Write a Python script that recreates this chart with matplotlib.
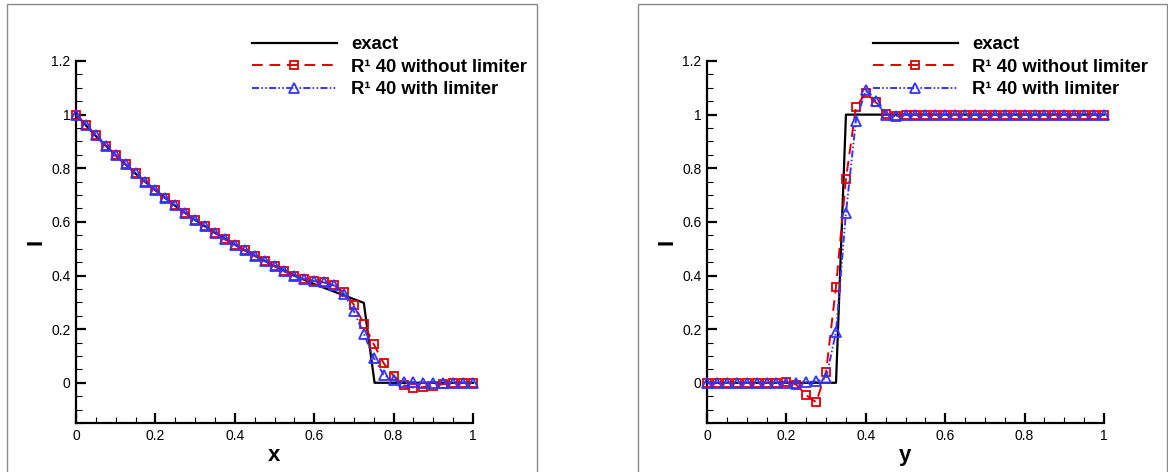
import matplotlib
matplotlib.use("Agg")
import matplotlib.pyplot as plt
from matplotlib.patches import Rectangle
from matplotlib.ticker import MultipleLocator, FixedLocator
from matplotlib.lines import Line2D

plt.rcParams['font.family'] = ['Liberation Sans', 'DejaVu Sans']

# ---------------- data ----------------
xs = [0.000, 0.025, 0.050, 0.075, 0.100, 0.125, 0.150, 0.175, 0.200, 0.225,
      0.250, 0.275, 0.300, 0.325, 0.350, 0.375, 0.400, 0.425, 0.450, 0.475,
      0.500, 0.525, 0.550, 0.575, 0.600, 0.625, 0.650, 0.675, 0.700, 0.725,
      0.750, 0.775, 0.800, 0.825, 0.850, 0.875, 0.900, 0.925, 0.950, 0.975, 1.000]

# left panel (x direction)
exact_x = [0.0, 0.05, 0.1, 0.15, 0.2, 0.25, 0.3, 0.35, 0.4, 0.45, 0.5, 0.55,
           0.6, 0.65, 0.7, 0.725, 0.752, 1.0]
exact_x_I = [1.0, 0.92, 0.848, 0.78, 0.718, 0.66, 0.607, 0.56, 0.515, 0.474,
             0.436, 0.40, 0.368, 0.34, 0.312, 0.298, 0.0, 0.0]
nolim_x = [1.000, 0.963, 0.923, 0.884, 0.848, 0.815, 0.781, 0.749, 0.719, 0.689,
           0.662, 0.633, 0.608, 0.583, 0.558, 0.535, 0.515, 0.494, 0.474, 0.454,
           0.435, 0.415, 0.398, 0.386, 0.379, 0.374, 0.363, 0.337, 0.291, 0.220,
           0.144, 0.073, 0.026, -0.009, -0.018, -0.016, -0.011, -0.005, -0.002, 0.000, 0.000]
lim_x = [1.000, 0.963, 0.923, 0.884, 0.848, 0.815, 0.781, 0.749, 0.719, 0.689,
         0.662, 0.633, 0.608, 0.583, 0.558, 0.535, 0.515, 0.494, 0.474, 0.454,
         0.435, 0.415, 0.398, 0.386, 0.379, 0.374, 0.363, 0.331, 0.266, 0.183,
         0.092, 0.030, 0.009, 0.003, 0.002, 0.001, 0.001, 0.000, 0.000, 0.000, 0.000]

# right panel (y direction)
exact_y = [0.0, 0.325, 0.35, 1.0]
exact_y_I = [0.0, 0.0, 1.0, 1.0]
nolim_y = [0.000, 0.000, 0.000, 0.000, 0.000, 0.000, 0.000, 0.000, 0.004, -0.007,
           -0.046, -0.073, 0.042, 0.359, 0.760, 1.027, 1.082, 1.046, 1.003, 0.994,
           1.000, 1.000, 1.000, 1.000, 1.000, 1.000, 1.000, 1.000, 1.000, 1.000,
           1.000, 1.000, 1.000, 1.000, 1.000, 1.000, 1.000, 1.000, 1.000, 1.000, 1.000]
lim_y = [0.000, 0.000, 0.000, 0.000, 0.000, 0.000, 0.000, 0.000, 0.000, 0.000,
         0.002, 0.005, 0.017, 0.191, 0.633, 0.978, 1.090, 1.050, 1.000, 0.994,
         1.000, 1.000, 1.000, 1.000, 1.000, 1.000, 1.000, 1.000, 1.000, 1.000,
         1.000, 1.000, 1.000, 1.000, 1.000, 1.000, 1.000, 1.000, 1.000, 1.000, 1.000]

labels = ['exact', 'R\u00b9 40 without limiter', 'R\u00b9 40 with limiter']
tick_vals = [0, 0.2, 0.4, 0.6, 0.8, 1.0, 1.2]
tick_txt = ['0', '0.2', '0.4', '0.6', '0.8', '1', '1.2']
xtick_vals = [0, 0.2, 0.4, 0.6, 0.8, 1.0]
xtick_txt = ['0', '0.2', '0.4', '0.6', '0.8', '1']

# ---------------- figure ----------------
W, H = 1168, 472
fig = plt.figure(figsize=(W / 100, H / 100), dpi=100)
fig.patch.set_facecolor('white')

# panel frames
for (l, r) in [(7, 537), (638, 1167)]:
    fig.add_artist(Rectangle((l / W, -0.02), (r - l) / W, 1.02 - 4 / H,
                             transform=fig.transFigure, fill=False,
                             edgecolor='#8a8a8a', lw=1.0))

red_dash = (5.5, 3.5)
blue_dd = (3.6, 1.2, 0.8, 1.2, 0.8, 1.2)


def setup(ax, xlabel, exx, exI, nl, wl):
    ax.plot(exx, exI, color='black', lw=1.6, zorder=3, clip_on=False)
    ax.plot(xs, nl, color='#e00000', lw=1.4, dashes=red_dash, marker='s', ms=6,
            mfc='none', mec='#e00000', mew=1.3, zorder=4, clip_on=False)
    ax.plot(xs, wl, color='#3333ff', lw=1.4, dashes=blue_dd, marker='^', ms=6.5,
            mfc='none', mec='#3333ff', mew=1.3, zorder=5, clip_on=False)
    ax.set_xlim(0, 1)
    ax.set_ylim(-0.15, 1.2)
    for s in ['top', 'right']:
        ax.spines[s].set_visible(False)
    for s in ['left', 'bottom']:
        ax.spines[s].set_linewidth(1.6)
    ax.xaxis.set_major_locator(FixedLocator(xtick_vals))
    ax.set_xticklabels(xtick_txt)
    ax.yaxis.set_major_locator(FixedLocator(tick_vals))
    ax.set_yticklabels(tick_txt)
    ax.xaxis.set_minor_locator(MultipleLocator(0.05))
    ax.yaxis.set_minor_locator(MultipleLocator(0.05))
    ax.tick_params(which='major', direction='in', length=7, width=1.6,
                   labelsize=10, pad=4)
    ax.tick_params(which='minor', direction='in', length=4.5, width=0.8)
    ax.set_xlabel(xlabel, fontsize=16, fontweight='bold', labelpad=2)
    ax.set_ylabel('I', fontsize=16, fontweight='bold', labelpad=3)
    handles = [Line2D([], [], color='black', lw=1.6),
               Line2D([], [], color='#e00000', lw=1.4, dashes=red_dash, marker='s',
                      ms=6, mfc='none', mec='#e00000', mew=1.3),
               Line2D([], [], color='#3333ff', lw=1.4, dashes=blue_dd, marker='^',
                      ms=6.5, mfc='none', mec='#3333ff', mew=1.3)]
    return handles


h = setup(fig.add_axes([76 / W, 49 / H, 397 / W, 362 / H]), 'x',
          exact_x, exact_x_I, nolim_x, lim_x)
setup(fig.add_axes([707 / W, 49 / H, 397 / W, 362 / H]), 'y',
      exact_y, exact_y_I, nolim_y, lim_y)

for lx in (252, 873):
    fig.legend(h, labels, loc='upper left', bbox_to_anchor=(lx / W, 1 - 36 / H),
               frameon=False, borderpad=0, borderaxespad=0, handlelength=4.6,
               handletextpad=0.75, labelspacing=0.30, numpoints=1,
               prop={'weight': 'bold', 'size': 13.3})

fig.savefig('out.png', dpi=100, facecolor='white')
